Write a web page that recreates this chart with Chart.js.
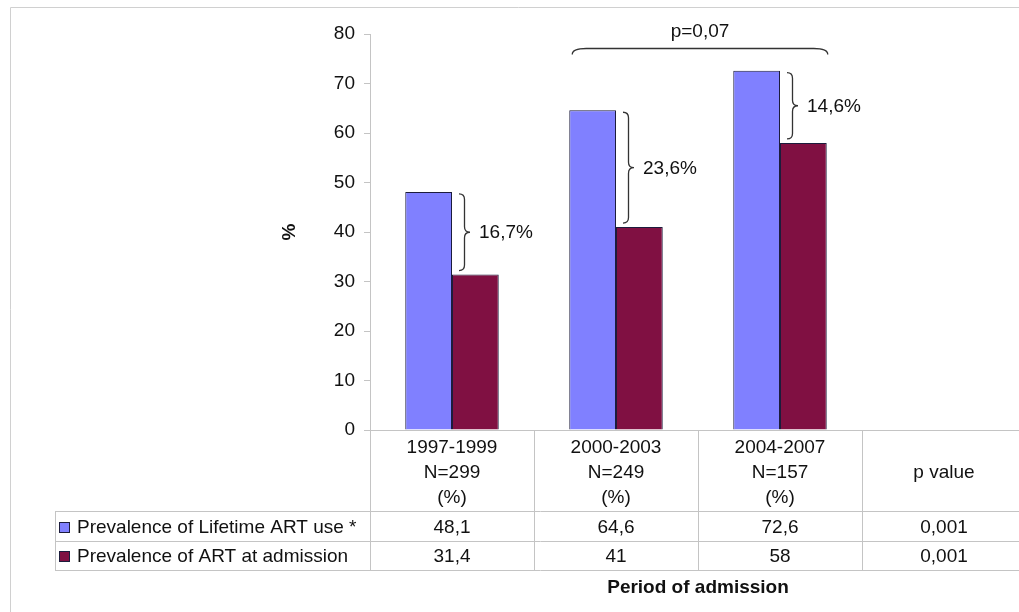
<!DOCTYPE html>
<html>
<head>
<meta charset="utf-8">
<script src="https://cdn.jsdelivr.net/npm/chart.js@4.4.1/dist/chart.umd.min.js"></script>
<style>
  html, body { margin: 0; padding: 0; background: #fff; overflow: hidden; }
  #wrap { position: relative; width: 1019px; height: 612px; overflow: hidden; }
  canvas { display: block; }
</style>
</head>
<body>
<div id="wrap"><canvas id="artChart" width="1026" height="612"></canvas></div>
<script>
// data
const periods = ['1997-1999', '2000-2003', '2004-2007'];
const sampleSizes = [299, 249, 157];
const lifetimeArt = [48.1, 64.6, 72.6];
const artAtAdmission = [31.4, 41, 58];
const pValues = ['0,001', '0,001'];
const trendP = '0,07';
const seriesNames = ['Prevalence of Lifetime ART use *', 'Prevalence of ART at admission'];
const yMin = 0, yMax = 80, yStep = 10;

const blue = '#8080ff';
const maroon = '#801042';
const edge = '#1c1c3c';
const gridGray = '#c4c4c4';
const FONT = "'Liberation Sans', Arial, sans-serif";

Chart.defaults.font.family = FONT;
Chart.defaults.color = '#111';

// decimal comma like the original
const fmt = v => String(v).replace('.', ',');

// header labels of the table (the last column only holds p values)
const labels = periods.map((p, i) => [p, 'N=' + sampleSizes[i], '(%)']).concat([['', 'p value', '']]);

// braces, table, axis title and frame
const notesPlugin = {
  id: 'notes',
  afterDraw(chart) {
    const { ctx, chartArea, scales: { x, y } } = chart;
    const b0 = chart.getDatasetMeta(0).data;
    const b1 = chart.getDatasetMeta(1).data;
    const colW = x.getPixelForValue(1) - x.getPixelForValue(0);
    ctx.save();

    // outer frame
    ctx.strokeStyle = '#d0d0d0';
    ctx.lineWidth = 1;
    ctx.beginPath();
    ctx.moveTo(10.5, 612); ctx.lineTo(10.5, 7.5); ctx.lineTo(chart.width, 7.5);
    ctx.stroke();

    // table lines
    const rowTop = 511, rowMid = 541, rowBot = 570, legLeft = 55;
    ctx.strokeStyle = gridGray;
    ctx.beginPath();
    for (let i = 0; i <= labels.length; i++) {
      const cx = Math.round(x.getPixelForValue(0) - colW / 2 + i * colW) + 0.5;
      ctx.moveTo(cx, chartArea.bottom); ctx.lineTo(cx, rowBot);
    }
    [rowTop, rowMid, rowBot].forEach(ry => {
      ctx.moveTo(legLeft, ry + 0.5); ctx.lineTo(chart.width, ry + 0.5);
    });
    ctx.moveTo(legLeft + 0.5, rowTop); ctx.lineTo(legLeft + 0.5, rowBot);
    ctx.stroke();

    // table rows: legend key + values
    ctx.font = '19px ' + FONT;
    ctx.fillStyle = '#111';
    ctx.textBaseline = 'middle';
    const rows = [
      { name: seriesNames[0], color: blue, vals: lifetimeArt, p: pValues[0], cy: 528 },
      { name: seriesNames[1], color: maroon, vals: artAtAdmission, p: pValues[1], cy: 557 }
    ];
    rows.forEach(r => {
      ctx.fillStyle = r.color;
      ctx.fillRect(59.5, r.cy - 5.5, 10, 10);
      ctx.strokeStyle = edge;
      ctx.strokeRect(59.5, r.cy - 5.5, 10, 10);
      ctx.fillStyle = '#111';
      ctx.textAlign = 'left';
      ctx.fillText(r.name, 77, r.cy);
      ctx.textAlign = 'center';
      r.vals.forEach((v, i) => ctx.fillText(fmt(v), x.getPixelForValue(i), r.cy));
      ctx.fillText(r.p, x.getPixelForValue(r.vals.length), r.cy);
    });

    // x title
    ctx.font = 'bold 19px ' + FONT;
    ctx.textAlign = 'center';
    ctx.fillText('Period of admission', (chartArea.left + chartArea.right) / 2, 588);

    // y title
    ctx.save();
    ctx.translate(290, (chartArea.top + chartArea.bottom) / 2);
    ctx.rotate(-Math.PI / 2);
    ctx.fillText('%', 0, 0);
    ctx.restore();

    // vertical braces with the difference between both series
    ctx.strokeStyle = '#333';
    ctx.lineWidth = 1.3;
    ctx.font = '19px ' + FONT;
    ctx.textAlign = 'left';
    periods.forEach((p, i) => {
      const bar = b0[i], bar2 = b1[i];
      const x0 = bar.x + bar.width / 2 + 7, w = 11, r = w / 2;
      const y1 = bar.y + 2, y2 = bar2.y - 4, ym = (y1 + y2) / 2;
      ctx.beginPath();
      ctx.moveTo(x0, y1);
      ctx.quadraticCurveTo(x0 + r, y1, x0 + r, y1 + r);
      ctx.lineTo(x0 + r, ym - r);
      ctx.quadraticCurveTo(x0 + r, ym, x0 + w, ym);
      ctx.quadraticCurveTo(x0 + r, ym, x0 + r, ym + r);
      ctx.lineTo(x0 + r, y2 - r);
      ctx.quadraticCurveTo(x0 + r, y2, x0, y2);
      ctx.stroke();
      const diff = (lifetimeArt[i] - artAtAdmission[i]).toFixed(1);
      ctx.fillText(fmt(diff) + '%', x0 + w + 9, ym + 1);
    });

    // trend brace over the last two periods
    const bx1 = b0[1].x - b0[1].width / 2 + 3;
    const bx2 = b1[2].x + b1[2].width / 2 + 1;
    const by = chartArea.top + 14.5;
    ctx.beginPath();
    ctx.moveTo(bx1, by + 6);
    ctx.quadraticCurveTo(bx1, by, bx1 + 14, by);
    ctx.lineTo(bx2 - 14, by);
    ctx.quadraticCurveTo(bx2, by, bx2, by + 6);
    ctx.stroke();
    ctx.textAlign = 'center';
    ctx.fillText('p=' + trendP, (bx1 + bx2) / 2, chartArea.top - 2);

    ctx.restore();
  }
};

new Chart(document.getElementById('artChart'), {
  type: 'bar',
  data: {
    labels: labels,
    datasets: [
      {
        label: seriesNames[0],
        data: lifetimeArt.concat([null]),
        backgroundColor: blue,
        borderColor: edge,
        borderWidth: 1
      },
      {
        label: seriesNames[1],
        data: artAtAdmission.concat([null]),
        backgroundColor: maroon,
        borderColor: edge,
        borderWidth: 1
      }
    ]
  },
  options: {
    responsive: false,
    animation: false,
    devicePixelRatio: 1,
    layout: { padding: { top: 34, left: 0, right: 0, bottom: 0 } },
    datasets: { bar: { categoryPercentage: 0.57, barPercentage: 1 } },
    plugins: { legend: { display: false }, tooltip: { enabled: false } },
    scales: {
      x: {
        grid: { drawOnChartArea: false, drawTicks: false, color: gridGray },
        border: { color: gridGray },
        ticks: { font: { size: 19, lineHeight: 1.32 }, padding: 5, color: '#111', maxRotation: 0, autoSkip: false },
        afterFit(s) { s.height = 182; }
      },
      y: {
        min: yMin,
        max: yMax,
        grid: { drawOnChartArea: false, drawTicks: true, tickLength: 6, color: gridGray },
        border: { color: gridGray },
        ticks: { stepSize: yStep, font: { size: 19 }, padding: 9, color: '#111' },
        afterFit(s) { s.width = 370; }
      }
    }
  },
  plugins: [notesPlugin]
});
</script>
</body>
</html>
